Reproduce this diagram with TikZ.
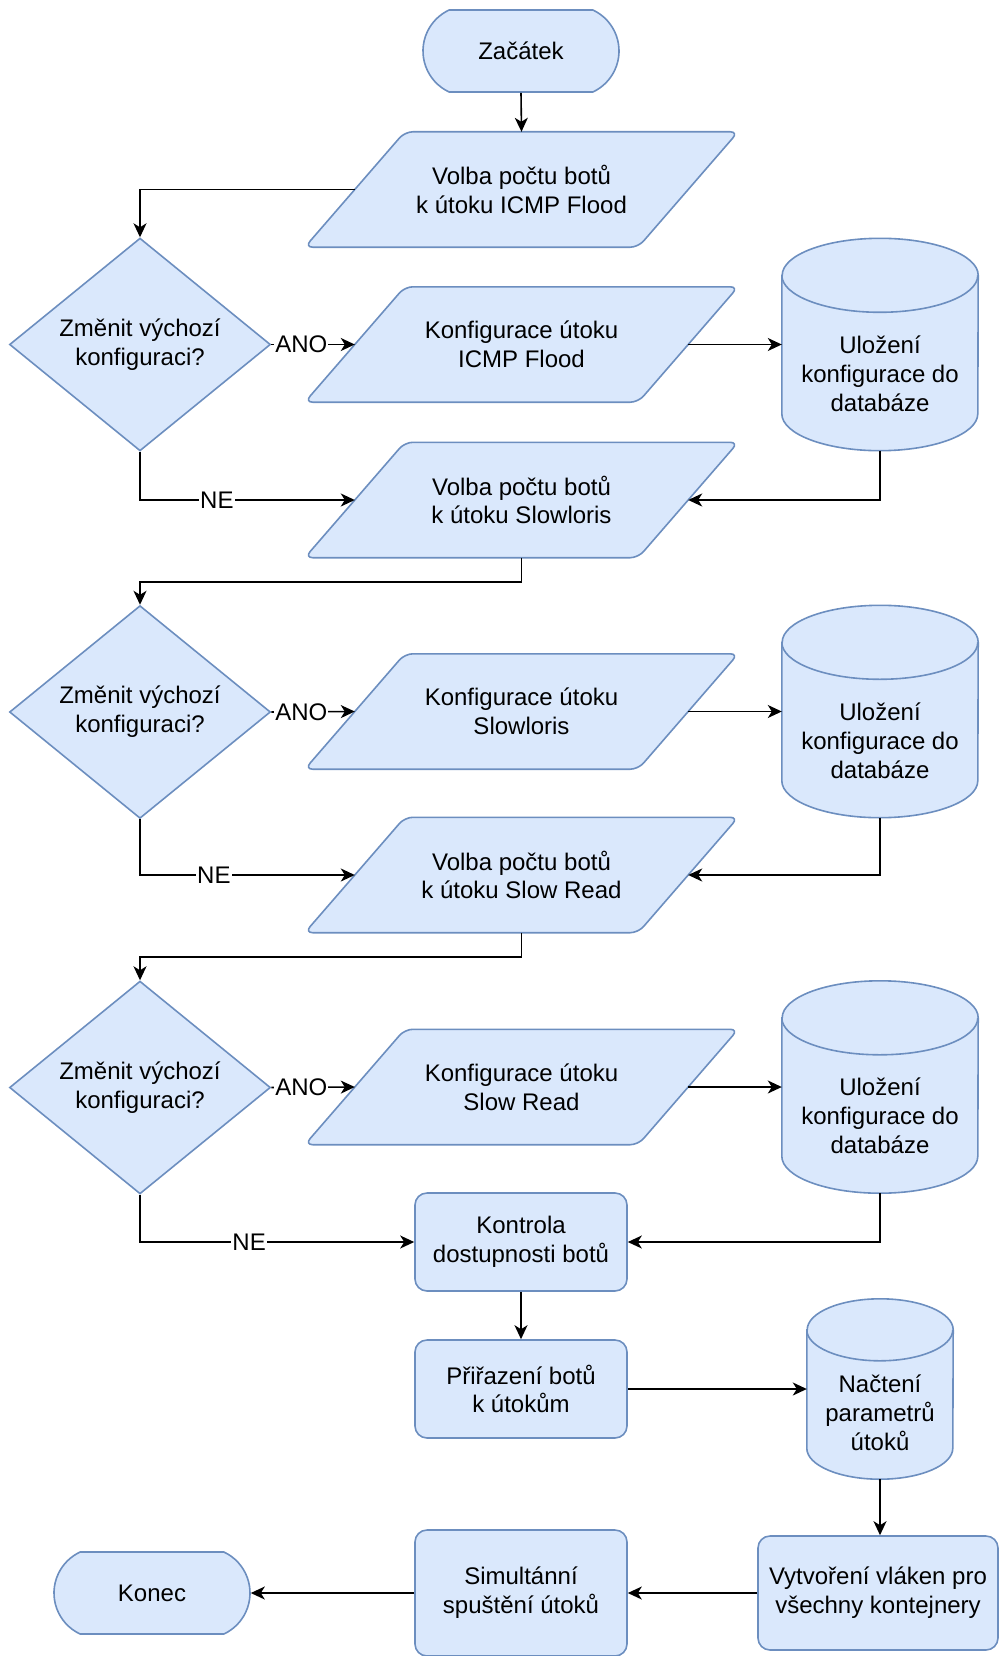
\documentclass[tikz,border=0pt]{standalone}
\usepackage{fontspec}
\setmainfont{Liberation Sans}
\usetikzlibrary{shapes.geometric,shapes.misc,arrows.meta,backgrounds}
\definecolor{fillc}{HTML}{DAE8FC}
\definecolor{linec}{HTML}{6C8EBF}
\newcommand\parashape[1]{%
  \draw[blk, rounded corners=8pt] ([xshift=-50pt]#1.south west) -- ([xshift=50pt]#1.north west) -- ([xshift=50pt]#1.north east) -- ([xshift=-50pt]#1.south east) -- cycle;}
\newcommand\cylshape[3]{%
  \draw[blk] ([yshift=-#3]#1.north west) -- ([yshift=#3]#1.south west)
    arc[start angle=180, end angle=360, x radius=#2, y radius=#3]
    -- ([yshift=-#3]#1.north east)
    arc[start angle=0, end angle=180, x radius=#2, y radius=#3] -- cycle;
  \draw[blk, fill=none] ([yshift=-#3]#1.north west) arc[start angle=180, end angle=360, x radius=#2, y radius=#3];}
\begin{document}
\begin{tikzpicture}[x=1pt,y=-1pt,
  font=\fontsize{24}{28.8}\selectfont,
  blk/.style={fill=fillc, draw=linec, line width=1.6pt},
  ptext/.style={rectangle, minimum width=333pt, minimum height=115pt, inner sep=0pt, align=center},
  dia/.style={diamond, blk, minimum width=261pt, minimum height=195pt, inner sep=0pt, align=center},
  proc/.style={rectangle, rounded corners=12pt, blk, align=center, inner sep=0pt, minimum width=212pt, minimum height=98pt},
  term/.style={rounded rectangle, rounded rectangle arc length=130, blk, minimum width=196pt, minimum height=82pt, inner sep=0pt},
  cylbox/.style={rectangle, inner sep=0pt},
  ctext/.style={align=center, inner sep=0pt},
  arr/.style={-{Stealth[length=14pt,width=13pt,inset=4pt]}, line width=1.6pt},
  lbl/.style={fill=white, inner sep=1pt}
]
\path[use as bounding box] (0,0) rectangle (1000,1656);

% nodes
\node[term] (zac) at (521,51) {Začátek};
\node[ptext] (p1) at (521.5,189.5) {Volba počtu botů\\k útoku ICMP Flood};
\node[dia] (d1) at (140,344.5) {Změnit výchozí\\konfiguraci?};
\node[ptext] (p2) at (521.5,344.5) {Konfigurace útoku\\ICMP Flood};
\node[cylbox, minimum width=196pt, minimum height=212pt] (c1) at (880,344.5) {};
\node[ptext] (p3) at (521.5,500) {Volba počtu botů\\k útoku Slowloris};
\node[dia] (d2) at (140,712) {Změnit výchozí\\konfiguraci?};
\node[ptext] (p4) at (521.5,711.5) {Konfigurace útoku\\Slowloris};
\node[cylbox, minimum width=196pt, minimum height=212pt] (c2) at (880,711.5) {};
\node[ptext] (p5) at (521.5,875) {Volba počtu botů\\k útoku Slow Read};
\node[dia] (d3) at (140,1087.5) {Změnit výchozí\\konfiguraci?};
\node[ptext] (p6) at (521.5,1087) {Konfigurace útoku\\Slow Read};
\node[cylbox, minimum width=196pt, minimum height=212pt] (c3) at (880,1087) {};
\node[proc] (r1) at (521,1242) {Kontrola\\dostupnosti botů};
\node[proc] (r2) at (521,1389) {Přiřazení botů\\k útokům};
\node[cylbox, minimum width=146pt, minimum height=180pt] (c4) at (880,1389) {};
\node[proc, minimum width=240pt, minimum height=114pt] (r3) at (878,1593) {Vytvoření vláken pro\\všechny kontejnery};
\node[proc, minimum height=126pt] (r4) at (521,1593) {Simultánní\\spuštění útoků};
\node[term] (kon) at (152,1593) {Konec};

% shapes behind text
\begin{scope}[on background layer]
  \parashape{p1}\parashape{p2}\parashape{p3}\parashape{p4}\parashape{p5}\parashape{p6}
  \cylshape{c1}{98pt}{37pt}
  \cylshape{c2}{98pt}{37pt}
  \cylshape{c3}{98pt}{37pt}
  \cylshape{c4}{73pt}{31pt}
\end{scope}

% cylinder texts
\node[ctext] (c1t) at ([yshift=-29pt]c1.center) {Uložení\\konfigurace do\\databáze};
\node[ctext] (c2t) at ([yshift=-29pt]c2.center) {Uložení\\konfigurace do\\databáze};
\node[ctext] (c3t) at ([yshift=-29pt]c3.center) {Uložení\\konfigurace do\\databáze};
\node[ctext] (c4t) at ([yshift=-24pt]c4.center) {Načtení\\parametrů\\útoků};

% connectors
\draw[arr] (zac.south) -- (p1.north);
\draw[arr] (p1.west) -| (d1.north);
\draw[arr] (d1.east) -- node[lbl, pos=0.36] {ANO} (p2.west);
\draw[arr] (p2.east) -- (c1.west);
\draw[arr] (c1.south) |- (p3.east);
\draw[arr] (d1.south) |- node[lbl, pos=0.679] {NE} (p3.west);
\draw[arr] (p3.south) -- ++(0,24) -| (d2.north);

\draw[arr] (d2.east) -- node[lbl, pos=0.36] {ANO} (p4.west);
\draw[arr] (p4.east) -- (c2.west);
\draw[arr] (c2.south) |- (p5.east);
\draw[arr] (d2.south) |- node[lbl, pos=0.672] {NE} (p5.west);
\draw[arr] (p5.south) -- ++(0,24) -| (d3.north);

\draw[arr] (d3.east) -- node[lbl, pos=0.36] {ANO} (p6.west);
\draw[arr] (p6.east) -- (c3.west);
\draw[arr] (c3.south) |- (r1.east);
\draw[arr] (d3.south) |- node[lbl, pos=0.699] {NE} (r1.west);

\draw[arr] (r1.south) -- (r2.north);
\draw[arr] (r2.east) -- (c4.west);
\draw[arr] (c4.south) -- (c4.south |- r3.north);
\draw[arr] (r3.west) -- (r4.east);
\draw[arr] (r4.west) -- (kon.east);
\end{tikzpicture}
\end{document}
